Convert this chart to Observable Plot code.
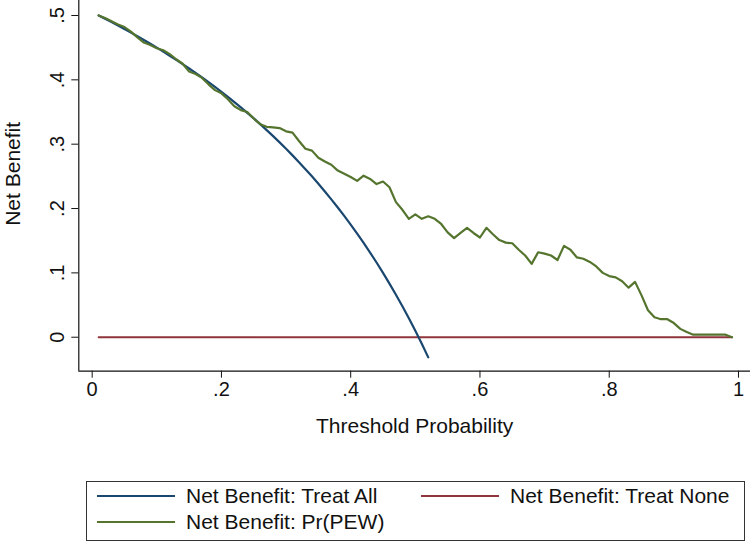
<!DOCTYPE html>
<html>
<head>
<meta charset="utf-8">
<script src="https://cdn.jsdelivr.net/npm/d3@7"></script>
<script src="https://cdn.jsdelivr.net/npm/@observablehq/plot@0.6"></script>
<style>
  html, body { margin: 0; padding: 0; background: #fff; }
  body { width: 753px; height: 548px; position: relative; overflow: hidden; font-family: "Liberation Sans", Arial, Helvetica, sans-serif; }
  #chart { position: absolute; left: 0; top: 0; }
  #legend { position: absolute; left: 86px; top: 481px; width: 659px; height: 60px; box-sizing: border-box; border: 1px solid #333; }
  .item { position: absolute; display: flex; align-items: center; font-size: 21px; color: #111; white-space: nowrap; }
  .sw { width: 78px; height: 0; border-top: 2px solid; margin-right: 11px; }
</style>
</head>
<body>
<div id="chart"></div>
<div id="legend"></div>
<script>
// ---- data ----
const thresholds = d3.range(1, 100).map(i => i / 100);
const treatAllThresholds = thresholds.slice(0, 52); // 0.01 .. 0.52
const treatAll = [
  0.500, 0.4949, 0.4897, 0.4844, 0.4789, 0.4734, 0.4677, 0.4620, 0.4560, 0.4500,
  0.4438, 0.4375, 0.4310, 0.4244, 0.4176, 0.4107, 0.4036, 0.3963, 0.3889, 0.3813,
  0.3734, 0.3654, 0.3571, 0.3487, 0.3400, 0.3311, 0.3219, 0.3125, 0.3028, 0.2929,
  0.2826, 0.2721, 0.2612, 0.2500, 0.2385, 0.2266, 0.2143, 0.2016, 0.1885, 0.1750,
  0.1610, 0.1465, 0.1316, 0.1161, 0.1000, 0.0833, 0.0660, 0.0481, 0.0294, 0.0100,
  -0.0102, -0.0313
];
const treatNone = thresholds.map(() => 0);
const prPEW = [
  0.500, 0.496, 0.491, 0.486, 0.482, 0.475, 0.466, 0.458, 0.454, 0.449,
  0.446, 0.440, 0.432, 0.425, 0.413, 0.409, 0.403, 0.393, 0.384, 0.379,
  0.370, 0.359, 0.353, 0.350, 0.340, 0.331, 0.327, 0.326, 0.325, 0.320,
  0.318, 0.305, 0.293, 0.290, 0.279, 0.273, 0.268, 0.259, 0.254, 0.249,
  0.243, 0.251, 0.246, 0.238, 0.242, 0.233, 0.210, 0.198, 0.184, 0.191,
  0.184, 0.188, 0.184, 0.176, 0.163, 0.154, 0.162, 0.170, 0.162, 0.155,
  0.170, 0.160, 0.151, 0.147, 0.146, 0.136, 0.127, 0.114, 0.132, 0.130,
  0.127, 0.120, 0.142, 0.136, 0.124, 0.122, 0.117, 0.110, 0.100, 0.095,
  0.093, 0.087, 0.077, 0.086, 0.065, 0.042, 0.031, 0.028, 0.028, 0.022,
  0.013, 0.008, 0.004, 0.004, 0.004, 0.004, 0.004, 0.004, 0.000
];
const xTicks = [0, 0.2, 0.4, 0.6, 0.8, 1];
const xTickLabels = ["0", ".2", ".4", ".6", ".8", "1"];
const yTicks = [0, 0.1, 0.2, 0.3, 0.4, 0.5];
const yTickLabels = ["0", ".1", ".2", ".3", ".4", ".5"];
const seriesNames = ["Net Benefit: Treat All", "Net Benefit: Treat None", "Net Benefit: Pr(PEW)"];
const seriesColors = ["#1a476f", "#90353b", "#55752f"];
const xTitle = "Threshold Probability";
const yTitle = "Net Benefit";

// ---- build ----
const allRows = treatAllThresholds.map((t, i) => ({t, v: treatAll[i]}));
const noneRows = thresholds.map((t, i) => ({t, v: treatNone[i]}));
const pewRows = thresholds.map((t, i) => ({t, v: prPEW[i]}));

const xDomain = [-0.0207, 1.0186];
const yDomain = [-0.0528, 0.5233];
const font = '"Liberation Sans", Arial, Helvetica, sans-serif';

const chart = Plot.plot({
  width: 753,
  height: 445,
  marginLeft: 78.3,
  marginRight: 3,
  marginTop: 0,
  marginBottom: 74.3,
  style: {fontFamily: font, fontSize: "20px", color: "#111", background: "#fff", overflow: "visible"},
  x: {domain: xDomain},
  y: {domain: yDomain},
  marks: [
    Plot.ruleX([xDomain[0]], {stroke: "#111", strokeWidth: 1.2}),
    Plot.ruleY([yDomain[0]], {stroke: "#111", strokeWidth: 1.2}),
    Plot.axisX(xTicks, {tickSize: 7, tickPadding: 4, tickFormat: (d, i) => xTickLabels[i], fontSize: 20, label: null, stroke: "#111"}),
    Plot.axisY(yTicks, {tickSize: 7, tickPadding: 8, tickRotate: -90, tickFormat: (d, i) => yTickLabels[i], fontSize: 20, label: null, stroke: "#111"}),
    Plot.line(noneRows, {x: "t", y: "v", stroke: seriesColors[1], strokeWidth: 2}),
    Plot.line(allRows, {x: "t", y: "v", stroke: seriesColors[0], strokeWidth: 2.2}),
    Plot.line(pewRows, {x: "t", y: "v", stroke: seriesColors[2], strokeWidth: 2.2}),
    Plot.text([xTitle], {frameAnchor: "bottom", textAnchor: "middle", dy: 55, fontSize: 21, lineAnchor: "middle", fill: "#111"}),
    Plot.text([yTitle], {frameAnchor: "left", textAnchor: "middle", lineAnchor: "middle", dx: -66, dy: -12, rotate: -90, fontSize: 21, fill: "#111"})
  ]
});
document.getElementById("chart").appendChild(chart);

// legend
const legend = document.getElementById("legend");
const pos = [[10, 14], [334, 14], [10, 40]];
seriesNames.forEach((name, i) => {
  const it = document.createElement("div");
  it.className = "item";
  it.style.left = pos[i][0] + "px";
  it.style.top = (pos[i][1] - 12) + "px";
  it.style.height = "24px";
  const sw = document.createElement("div");
  sw.className = "sw";
  sw.style.borderTopColor = seriesColors[i];
  sw.style.marginRight = (i === 1 ? 11 : 11) + "px";
  const tx = document.createElement("span");
  tx.textContent = name;
  it.appendChild(sw);
  it.appendChild(tx);
  legend.appendChild(it);
});
</script>
</body>
</html>
